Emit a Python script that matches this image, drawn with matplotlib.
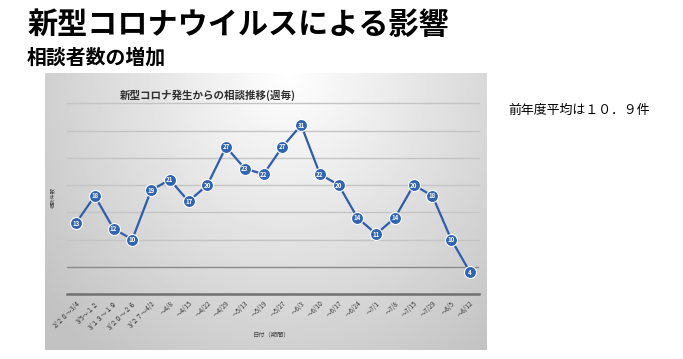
import numpy as np
import matplotlib
matplotlib.use("Agg")
import matplotlib.pyplot as plt

plt.rcParams['font.family'] = ['Noto Sans CJK JP', 'DejaVu Sans']

weeks = ["2/２８～3/4", "3/5～１２", "3/１３～１９", "3/２０～２６", "3/２７～4/2",
         "～4/8", "～4/15", "～4/22", "～4/29", "～5/13", "～5/19", "～5/27",
         "～6/3", "～6/10", "～6/17", "～6/24", "～7/1", "～7/8", "～7/15",
         "～7/29", "～8/5", "～8/12"]
counts = [13, 18, 12, 10, 19, 21, 17, 20, 27, 23, 22, 27, 31, 22, 20, 14, 11, 14, 20, 18, 10, 4]
yticks = [0, 5, 10, 15, 20, 25, 30, 35]

W, H = 683, 359
fig = plt.figure(figsize=(W / 100, H / 100), dpi=100)
fig.patch.set_facecolor('white')

def fx(x): return x / W
def fy(y): return 1 - y / H

# chart background with gradient
bx0, bx1, by0, by1 = 45, 487, 73, 350
bg = fig.add_axes([fx(bx0), fy(by1), fx(bx1 - bx0), (by1 - by0) / H])
gx, gy = np.meshgrid(np.linspace(-1, 1, 300), np.linspace(0, 1, 200))
r = np.sqrt(((gx - 0.1) / 1.1) ** 2 + (gy / 1.0) ** 2)
val = 1.0 - 0.24 * np.clip(r, 0, 1.3) / 1.3
bg.imshow(val, cmap='gray', vmin=0, vmax=1, aspect='auto', extent=[0, 1, 1, 0], interpolation='bilinear')
bg.set_axis_off()

# plot axes
px0, px1, py_top, py_bot = 66.6, 479.4, 103.3, 294
ax = fig.add_axes([fx(px0), fy(py_bot), fx(px1 - px0), (py_bot - py_top) / H])
ax.patch.set_alpha(0)
x = np.arange(len(counts))
for t in yticks:
    if t == 0:
        ax.axhline(t, color='#707070', lw=1.8, zorder=1, clip_on=False)
    elif t == 5:
        ax.axhline(t, color='#8a8a8a', lw=1.0, zorder=1)
    else:
        ax.axhline(t, color='#c4c4c4', lw=1.0, zorder=1, clip_on=False)
ax.plot(x, counts, color='#2f5dab', lw=1.6, zorder=2)
ax.scatter(x, counts, s=75, color='#3264b4', edgecolors='white', linewidths=0.8, zorder=3)
for xi, v in zip(x, counts):
    ax.text(xi, v, str(v), ha='center', va='center', color='white', fontsize=4.4,
            fontweight='bold', zorder=4)
ax.set_xlim(-0.5, len(counts) - 0.5)
ax.set_ylim(0, 35)
ax.set_yticks([])
ax.set_xticks(x)
ax.set_xticklabels(weeks, rotation=45, ha='right', rotation_mode='anchor',
                   fontsize=4.6, color='#3a3a3a')
ax.tick_params(axis='x', length=0, pad=4)
for s in ax.spines.values():
    s.set_visible(False)

# chart texts
fig.text(fx(120), fy(95), "新型コロナ発生からの相談推移(週毎)", fontsize=7.6, fontweight='bold',
         color='#303030', ha='left', va='center')
fig.text(fx(53), fy(198), "相談件数", fontsize=3.8, rotation=90, color='#404040',
         ha='center', va='center')
fig.text(fx(272), fy(334), "日付（期間）", fontsize=4.5, color='#404040',
         ha='center', va='center')

# slide texts
fig.text(fx(27), fy(25), "新型コロナウイルスによる影響", fontsize=21.7, fontweight='bold',
         color='black', ha='left', va='center')
fig.text(fx(27), fy(57), "相談者数の増加", fontsize=14.3, fontweight='bold',
         color='black', ha='left', va='center')
fig.text(fx(508), fy(110), "前年度平均は１０．９件", fontsize=9.3,
         color='black', ha='left', va='center')

fig.savefig("out.png", dpi=100)
